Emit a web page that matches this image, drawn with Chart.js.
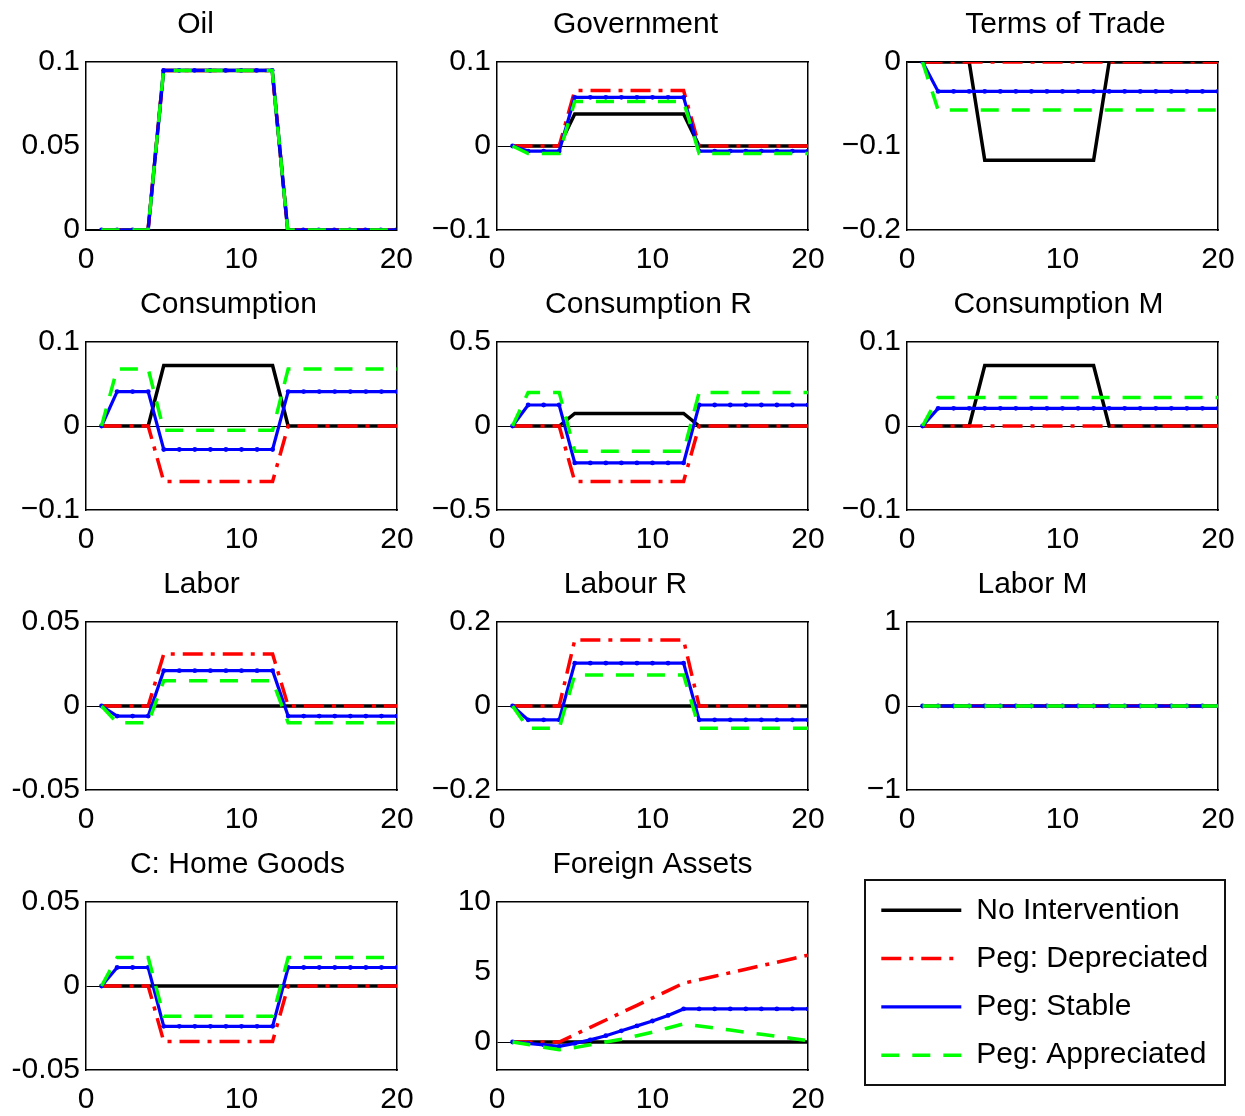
<!DOCTYPE html>
<html>
<head>
<meta charset="utf-8">
<script src="https://cdn.jsdelivr.net/npm/chart.js@4.4.1/dist/chart.umd.min.js"></script>
<style>
  html, body { margin: 0; padding: 0; background: #fff; }
  body { width: 1245px; height: 1116px; position: relative; overflow: hidden; }
  canvas { position: absolute; }
  #legendBox { position: absolute; left: 864px; top: 879px; width: 362px; height: 207px;
               border: 2px solid #111; box-sizing: border-box; }
</style>
</head>
<body>
<div id="legendBox"></div>
<script>
// ---- data ----
const periods = [1, 2, 3, 4, 5, 6, 7, 8, 9, 10, 11, 12, 13, 14, 15, 16, 17, 18, 19, 20];
const seriesNames = ["No Intervention", "Peg: Depreciated", "Peg: Stable", "Peg: Appreciated"];
const xTicks = [0, 10, 20];

const oilNone   = [0,0,0,0,0.095,0.095,0.095,0.095,0.095,0.095,0.095,0.095,0,0,0,0,0,0,0,0];
const oilDep    = [0,0,0,0,0.095,0.095,0.095,0.095,0.095,0.095,0.095,0.095,0,0,0,0,0,0,0,0];
const oilStable = [0,0,0,0,0.095,0.095,0.095,0.095,0.095,0.095,0.095,0.095,0,0,0,0,0,0,0,0];
const oilApp    = [0,0,0,0,0.095,0.095,0.095,0.095,0.095,0.095,0.095,0.095,0,0,0,0,0,0,0,0];

const govNone   = [0,0,0,0,0.038,0.038,0.038,0.038,0.038,0.038,0.038,0.038,0,0,0,0,0,0,0,0];
const govDep    = [0,0,0,0,0.066,0.066,0.066,0.066,0.066,0.066,0.066,0.066,0,0,0,0,0,0,0,0];
const govStable = [0,-0.006,-0.006,-0.006,0.058,0.058,0.058,0.058,0.058,0.058,0.058,0.058,-0.006,-0.006,-0.006,-0.006,-0.006,-0.006,-0.006,-0.006];
const govApp    = [0,-0.009,-0.009,-0.009,0.053,0.053,0.053,0.053,0.053,0.053,0.053,0.053,-0.009,-0.009,-0.009,-0.009,-0.009,-0.009,-0.009,-0.009];

const totNone   = [0,0,0,0,-0.117,-0.117,-0.117,-0.117,-0.117,-0.117,-0.117,-0.117,0,0,0,0,0,0,0,0];
const totDep    = [0,0,0,0,0,0,0,0,0,0,0,0,0,0,0,0,0,0,0,0];
const totStable = [0,-0.035,-0.035,-0.035,-0.035,-0.035,-0.035,-0.035,-0.035,-0.035,-0.035,-0.035,-0.035,-0.035,-0.035,-0.035,-0.035,-0.035,-0.035,-0.035];
const totApp    = [0,-0.057,-0.057,-0.057,-0.057,-0.057,-0.057,-0.057,-0.057,-0.057,-0.057,-0.057,-0.057,-0.057,-0.057,-0.057,-0.057,-0.057,-0.057,-0.057];

const consNone   = [0,0,0,0,0.072,0.072,0.072,0.072,0.072,0.072,0.072,0.072,0,0,0,0,0,0,0,0];
const consDep    = [0,0,0,0,-0.066,-0.066,-0.066,-0.066,-0.066,-0.066,-0.066,-0.066,0,0,0,0,0,0,0,0];
const consStable = [0,0.041,0.041,0.041,-0.028,-0.028,-0.028,-0.028,-0.028,-0.028,-0.028,-0.028,0.041,0.041,0.041,0.041,0.041,0.041,0.041,0.041];
const consApp    = [0,0.068,0.068,0.068,-0.005,-0.005,-0.005,-0.005,-0.005,-0.005,-0.005,-0.005,0.068,0.068,0.068,0.068,0.068,0.068,0.068,0.068];

const consRNone   = [0,0,0,0,0.075,0.075,0.075,0.075,0.075,0.075,0.075,0.075,0,0,0,0,0,0,0,0];
const consRDep    = [0,0,0,0,-0.33,-0.33,-0.33,-0.33,-0.33,-0.33,-0.33,-0.33,0,0,0,0,0,0,0,0];
const consRStable = [0,0.125,0.125,0.125,-0.22,-0.22,-0.22,-0.22,-0.22,-0.22,-0.22,-0.22,0.125,0.125,0.125,0.125,0.125,0.125,0.125,0.125];
const consRApp    = [0,0.2,0.2,0.2,-0.15,-0.15,-0.15,-0.15,-0.15,-0.15,-0.15,-0.15,0.2,0.2,0.2,0.2,0.2,0.2,0.2,0.2];

const consMNone   = [0,0,0,0,0.072,0.072,0.072,0.072,0.072,0.072,0.072,0.072,0,0,0,0,0,0,0,0];
const consMDep    = [0,0,0,0,0,0,0,0,0,0,0,0,0,0,0,0,0,0,0,0];
const consMStable = [0,0.021,0.021,0.021,0.021,0.021,0.021,0.021,0.021,0.021,0.021,0.021,0.021,0.021,0.021,0.021,0.021,0.021,0.021,0.021];
const consMApp    = [0,0.034,0.034,0.034,0.034,0.034,0.034,0.034,0.034,0.034,0.034,0.034,0.034,0.034,0.034,0.034,0.034,0.034,0.034,0.034];

const laborNone   = [0,0,0,0,0,0,0,0,0,0,0,0,0,0,0,0,0,0,0,0];
const laborDep    = [0,0,0,0,0.031,0.031,0.031,0.031,0.031,0.031,0.031,0.031,0,0,0,0,0,0,0,0];
const laborStable = [0,-0.006,-0.006,-0.006,0.021,0.021,0.021,0.021,0.021,0.021,0.021,0.021,-0.006,-0.006,-0.006,-0.006,-0.006,-0.006,-0.006,-0.006];
const laborApp    = [0,-0.01,-0.01,-0.01,0.015,0.015,0.015,0.015,0.015,0.015,0.015,0.015,-0.01,-0.01,-0.01,-0.01,-0.01,-0.01,-0.01,-0.01];

const labourRNone   = [0,0,0,0,0,0,0,0,0,0,0,0,0,0,0,0,0,0,0,0];
const labourRDep    = [0,0,0,0,0.157,0.157,0.157,0.157,0.157,0.157,0.157,0.157,0,0,0,0,0,0,0,0];
const labourRStable = [0,-0.033,-0.033,-0.033,0.102,0.102,0.102,0.102,0.102,0.102,0.102,0.102,-0.033,-0.033,-0.033,-0.033,-0.033,-0.033,-0.033,-0.033];
const labourRApp    = [0,-0.053,-0.053,-0.053,0.074,0.074,0.074,0.074,0.074,0.074,0.074,0.074,-0.053,-0.053,-0.053,-0.053,-0.053,-0.053,-0.053,-0.053];

const laborMNone   = [0,0,0,0,0,0,0,0,0,0,0,0,0,0,0,0,0,0,0,0];
const laborMDep    = [0,0,0,0,0,0,0,0,0,0,0,0,0,0,0,0,0,0,0,0];
const laborMStable = [0,0,0,0,0,0,0,0,0,0,0,0,0,0,0,0,0,0,0,0];
const laborMApp    = [0,0,0,0,0,0,0,0,0,0,0,0,0,0,0,0,0,0,0,0];

const homeNone   = [0,0,0,0,0,0,0,0,0,0,0,0,0,0,0,0,0,0,0,0];
const homeDep    = [0,0,0,0,-0.033,-0.033,-0.033,-0.033,-0.033,-0.033,-0.033,-0.033,0,0,0,0,0,0,0,0];
const homeStable = [0,0.011,0.011,0.011,-0.024,-0.024,-0.024,-0.024,-0.024,-0.024,-0.024,-0.024,0.011,0.011,0.011,0.011,0.011,0.011,0.011,0.011];
const homeApp    = [0,0.017,0.017,0.017,-0.018,-0.018,-0.018,-0.018,-0.018,-0.018,-0.018,-0.018,0.017,0.017,0.017,0.017,0.017,0.017,0.017,0.017];

const assetsNone   = [0,0,0,0,0,0,0,0,0,0,0,0,0,0,0,0,0,0,0,0];
const assetsDep    = [0,0,0,0,0.52,1.05,1.57,2.1,2.62,3.15,3.67,4.2,4.45,4.7,4.95,5.2,5.45,5.7,5.95,6.2];
const assetsStable = [0,-0.1,-0.2,-0.31,-0.1,0.15,0.45,0.8,1.15,1.5,1.9,2.36,2.36,2.36,2.36,2.36,2.36,2.36,2.36,2.36];
const assetsApp    = [0,-0.18,-0.37,-0.55,-0.4,-0.2,0,0.2,0.45,0.7,1.0,1.29,1.14,1.0,0.85,0.7,0.55,0.4,0.25,0.1];

// y ranges and tick labels
const oilTicks = [0, 0.05, 0.1],        oilLabels = ["0", "0.05", "0.1"];
const govTicks = [-0.1, 0, 0.1],        govLabels = ["\u22120.1", "0", "0.1"];
const totTicks = [-0.2, -0.1, 0],       totLabels = ["\u22120.2", "\u22120.1", "0"];
const consTicks = [-0.1, 0, 0.1],       consLabels = ["\u22120.1", "0", "0.1"];
const consRTicks = [-0.5, 0, 0.5],      consRLabels = ["\u22120.5", "0", "0.5"];
const consMTicks = [-0.1, 0, 0.1],      consMLabels = ["\u22120.1", "0", "0.1"];
const laborTicks = [-0.05, 0, 0.05],    laborLabels = ["-0.05", "0", "0.05"];
const labourRTicks = [-0.2, 0, 0.2],    labourRLabels = ["\u22120.2", "0", "0.2"];
const laborMTicks = [-1, 0, 1],         laborMLabels = ["\u22121", "0", "1"];
const homeTicks = [-0.05, 0, 0.05],     homeLabels = ["-0.05", "0", "0.05"];
const assetsTicks = [0, 5, 10],         assetsLabels = ["0", "5", "10"];
const assetsRange = [-2, 10];

// ---- layout / style ----
const colLeft = [86, 497, 907];
const rowTop = [62, 342, 622, 902];
const plotW = 311, plotH = 168;
const yAxisW = 120, titleH = 62, xAxisH = 45;
const fontFamily = '"Liberation Sans", Arial, Helvetica, sans-serif';

const lineStyles = [
  { color: "#000000", width: 3.5, dash: [], order: 4, radius: 0 },
  { color: "#ff0000", width: 3.5, dash: [20, 8, 4, 8], order: 3, radius: 0 },
  { color: "#0000ff", width: 3.2, dash: [], order: 2, radius: 2.4 },
  { color: "#00ff00", width: 3.5, dash: [18, 13], order: 1, radius: 0 },
];

const panels = [
  { title: "Oil", row: 0, col: 0, shift: -46, series: [oilNone, oilDep, oilStable, oilApp], ticks: oilTicks, labels: oilLabels },
  { title: "Government", row: 0, col: 1, shift: -17, series: [govNone, govDep, govStable, govApp], ticks: govTicks, labels: govLabels },
  { title: "Terms of Trade", row: 0, col: 2, shift: 3, series: [totNone, totDep, totStable, totApp], ticks: totTicks, labels: totLabels },
  { title: "Consumption", row: 1, col: 0, shift: -13, series: [consNone, consDep, consStable, consApp], ticks: consTicks, labels: consLabels },
  { title: "Consumption R", row: 1, col: 1, shift: -4, series: [consRNone, consRDep, consRStable, consRApp], ticks: consRTicks, labels: consRLabels },
  { title: "Consumption M", row: 1, col: 2, shift: -4, series: [consMNone, consMDep, consMStable, consMApp], ticks: consMTicks, labels: consMLabels },
  { title: "Labor", row: 2, col: 0, shift: -40, series: [laborNone, laborDep, laborStable, laborApp], ticks: laborTicks, labels: laborLabels },
  { title: "Labour R", row: 2, col: 1, shift: -27, series: [labourRNone, labourRDep, labourRStable, labourRApp], ticks: labourRTicks, labels: labourRLabels },
  { title: "Labor M", row: 2, col: 2, shift: -30, series: [laborMNone, laborMDep, laborMStable, laborMApp], ticks: laborMTicks, labels: laborMLabels },
  { title: "C: Home Goods", row: 3, col: 0, shift: -4, series: [homeNone, homeDep, homeStable, homeApp], ticks: homeTicks, labels: homeLabels },
  { title: "Foreign Assets", row: 3, col: 1, shift: 0, series: [assetsNone, assetsDep, assetsStable, assetsApp], ticks: assetsTicks, labels: assetsLabels, range: assetsRange },
];

Chart.defaults.font.family = fontFamily;
Chart.defaults.color = "#000";

const frame = { display: true, color: "#000", width: 1.5 };

function addCanvas(left, top, w, h) {
  const c = document.createElement("canvas");
  c.width = w; c.height = h;
  c.style.left = left + "px"; c.style.top = top + "px";
  c.style.width = w + "px"; c.style.height = h + "px";
  document.body.appendChild(c);
  return c;
}

panels.forEach((p) => {
  const rightW = yAxisW + 2 * p.shift;   // empty right box, keeps the title where the original has it
  const w = yAxisW + plotW + rightW;
  const h = titleH + plotH + xAxisH;
  const canvas = addCanvas(colLeft[p.col] - yAxisW, rowTop[p.row] - titleH, w, h);
  const range = p.range || [p.ticks[0], p.ticks[p.ticks.length - 1]];

  new Chart(canvas, {
    type: "line",
    data: {
      datasets: p.series.map((vals, k) => ({
        label: seriesNames[k],
        data: periods.map((x, j) => ({ x: x, y: vals[j] })),
        xAxisID: "x",
        yAxisID: "y",
        borderColor: lineStyles[k].color,
        backgroundColor: lineStyles[k].color,
        borderWidth: lineStyles[k].width,
        borderDash: lineStyles[k].dash,
        pointRadius: lineStyles[k].radius,
        pointBorderWidth: 0,
        pointBackgroundColor: lineStyles[k].color,
        tension: 0,
        fill: false,
        order: lineStyles[k].order,
      })),
    },
    options: {
      responsive: false,
      animation: false,
      events: [],
      layout: { padding: 0 },
      plugins: {
        legend: { display: false },
        tooltip: { enabled: false },
        title: {
          display: true,
          text: p.title,
          color: "#000",
          font: { family: fontFamily, size: 30, weight: "normal", lineHeight: 1.2 },
          padding: { top: 7, bottom: 19 },
        },
      },
      scales: {
        x: {
          type: "linear",
          position: "bottom",
          min: 0,
          max: 20,
          afterBuildTicks: (s) => { s.ticks = xTicks.map((v) => ({ value: v })); },
          afterFit: (s) => { s.height = xAxisH; },
          grid: { display: false, drawTicks: false },
          border: frame,
          ticks: { font: { size: 30 }, color: "#000", padding: 12, maxRotation: 0, autoSkip: false },
        },
        y: {
          type: "linear",
          position: "left",
          min: range[0],
          max: range[1],
          afterBuildTicks: (s) => { s.ticks = p.ticks.map((v) => ({ value: v })); },
          afterFit: (s) => { s.width = yAxisW; },
          grid: {
            drawTicks: false,
            lineWidth: 1,
            color: (ctx) => (ctx.tick && ctx.tick.value === 0 ? "#000" : "rgba(0,0,0,0)"),
          },
          border: frame,
          ticks: {
            font: { size: 30 },
            color: "#000",
            padding: 6,
            autoSkip: false,
            callback: (value, index) => p.labels[index],
          },
        },
        xTop: {
          axis: "x",
          type: "linear",
          position: "top",
          ticks: { display: false },
          grid: { display: false, drawTicks: false },
          border: frame,
          afterFit: (s) => { s.height = 0; },
        },
        yRight: {
          axis: "y",
          type: "linear",
          position: "right",
          ticks: { display: false },
          grid: { display: false, drawTicks: false },
          border: frame,
          afterFit: (s) => { s.width = rightW; },
        },
      },
    },
  });
});

// legend panel
const legendCanvas = addCanvas(863, 877, 480, 240);
new Chart(legendCanvas, {
  type: "line",
  data: {
    datasets: seriesNames.map((name, k) => ({
      label: name,
      data: [],
      borderColor: lineStyles[k].color,
      backgroundColor: lineStyles[k].color,
      borderWidth: lineStyles[k].width,
      borderDash: lineStyles[k].dash,
    })),
  },
  options: {
    responsive: false,
    animation: false,
    events: [],
    layout: { padding: 0 },
    scales: { x: { display: false }, y: { display: false } },
    plugins: {
      tooltip: { enabled: false },
      legend: {
        position: "left",
        align: "start",
        maxWidth: 1000,
        labels: {
          usePointStyle: true,
          pointStyleWidth: 80,
          boxWidth: 80,
          padding: 18.3,
          color: "#000",
          font: { family: fontFamily, size: 30 },
          generateLabels: (chart) => chart.data.datasets.map((ds, k) => ({
            text: ds.label,
            fillStyle: ds.borderColor,
            strokeStyle: ds.borderColor,
            lineWidth: ds.borderWidth,
            lineDash: ds.borderDash,
            lineCap: "butt",
            pointStyle: "line",
            fontColor: "#000",
            hidden: false,
            datasetIndex: k,
          })),
        },
      },
    },
  },
});
</script>
</body>
</html>
